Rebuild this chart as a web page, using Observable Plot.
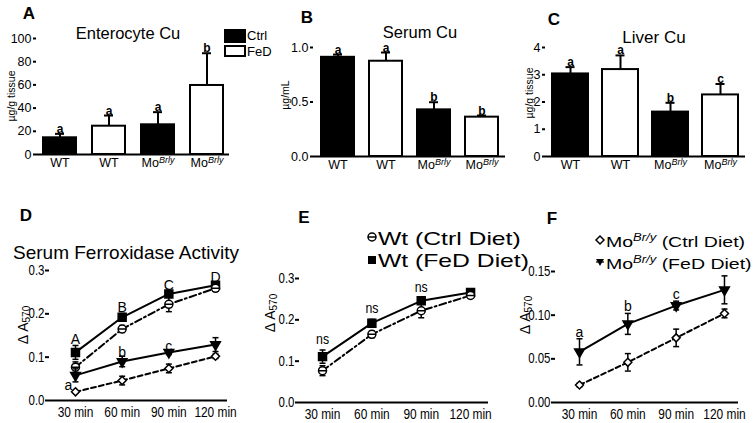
<!DOCTYPE html>
<html>
<head>
<meta charset="utf-8">
<script src="https://cdn.jsdelivr.net/npm/d3@7"></script>
<script src="https://cdn.jsdelivr.net/npm/@observablehq/plot@0.6"></script>
<style>
  body { margin: 0; background: #fff; }
  #fig { position: relative; width: 754px; height: 423px; overflow: hidden; background: #fff;
         font-family: "Liberation Sans", Arial, sans-serif; color: #000; }
  #fig svg.pp { position: absolute; left: 0; top: 0; }
  .t { position: absolute; white-space: nowrap; line-height: 1; }
  .c { transform: translate(-50%, -50%); }
  .rot { transform: translate(-50%, -50%) rotate(-90deg); }
  .letter { font-weight: bold; font-size: 17px; }
  .title { font-size: 16.5px; }
  .ylab { font-size: 10.5px; }
  .ylab2 { font-size: 14px; }
  .ylab2 sub { font-size: 10px; vertical-align: -2px; }
  .leg { font-size: 13px; }
  .legE { font-size: 19px; transform-origin: 0 50%; transform: translateY(-50%) scaleX(1.3); }
  .legF { font-size: 15px; transform-origin: 0 50%; transform: translateY(-50%) scaleX(1.3); }
  .legF sup { font-size: 10px; font-style: italic; vertical-align: 6px; }
  .box { position: absolute; box-sizing: border-box; border: 2px solid #000; }
</style>
</head>
<body>
<div id="fig"></div>
<script>
// ---------------- data ----------------
const barGroups = ["WT", "WT", "MoBrly", "MoBrly"];
const barDiets = ["Ctrl", "FeD", "Ctrl", "FeD"];

const enteroCu = [14.4, 24.4, 25.6, 59.5];
const enteroErr = [3.4, 9.2, 10.9, 27.8];
const enteroSig = ["a", "a", "a", "b"];
const enteroTicks = [0, 20, 40, 60, 80, 100];

const serumCu = [0.91, 0.874, 0.428, 0.361];
const serumErr = [0.025, 0.08, 0.07, 0.015];
const serumSig = ["a", "a", "b", "b"];
const serumTicks = [0, 0.5, 1.0];

const liverCu = [3.03, 3.19, 1.63, 2.26];
const liverErr = [0.25, 0.52, 0.34, 0.4];
const liverSig = ["a", "a", "b", "c"];
const liverTicks = [0, 1, 2, 3, 4];

const timeMin = [30, 60, 90, 120];
const timeLabels = ["30 min", "60 min", "90 min", "120 min"];

const wtCtrl = [0.077, 0.165, 0.222, 0.259];
const wtCtrlErr = [0.012, 0.008, 0.017, 0.004];
const wtFeD = [0.111, 0.192, 0.246, 0.266];
const wtFeDErr = [0.016, 0.009, 0.006, 0.005];
const moCtrl = [0.020, 0.046, 0.074, 0.102];
const moCtrlErr = [0.002, 0.010, 0.010, 0.005];
const moFeD = [0.058, 0.090, 0.111, 0.129];
const moFeDErr = [0.015, 0.012, 0.005, 0.016];

const dUpperSig = ["A", "B", "C", "D"];
const dLowerSig = ["a", "b", "c"];
const eSig = ["ns", "ns", "ns"];
const fSig = ["a", "b", "c"];

const ticks03 = [0, 0.1, 0.2, 0.3];
const ticks015 = [0, 0.05, 0.10, 0.15];

// ---------------- drawing ----------------
const W = 754, H = 423;
const fig = document.getElementById("fig");
const sansFont = '"Liberation Sans", Arial, sans-serif';
const NS = "http://www.w3.org/2000/svg";

const capSym = { draw(ctx, size) { const r = Math.sqrt(size / Math.PI); ctx.moveTo(-r, 0); ctx.lineTo(r, 0); } };
const circleBarSym = { draw(ctx, size) { const r = Math.sqrt(size / Math.PI);
  ctx.moveTo(r, 0); ctx.arc(0, 0, r, 0, 2 * Math.PI); ctx.moveTo(-r, 0); ctx.lineTo(r, 0); } };
const diamondSym = { draw(ctx, size) { const r = Math.sqrt(size / Math.PI);
  ctx.moveTo(0, -r); ctx.lineTo(r, 0); ctx.lineTo(0, r); ctx.lineTo(-r, 0); ctx.closePath(); } };

function addSvg(svg) { svg.classList.add("pp"); fig.appendChild(svg); return svg; }

// narrow the glyphs of multi-character texts (Arial-Narrow look)
function condense(svg, factor) {
  svg.querySelectorAll("text").forEach(t => {
    if (t.textContent.length < 2) return;
    const len = t.getComputedTextLength();
    if (len > 0) {
      t.setAttribute("textLength", (len * factor).toFixed(2));
      t.setAttribute("lengthAdjust", "spacingAndGlyphs");
    }
  });
}

const barKeys = barGroups.map((g, i) => g + " " + barDiets[i]);

function barPanel(vals, errs, sig, yMax, yTicks, fmt, box, pad, capInset) {
  const rows = barKeys.map((k, i) => ({ k, diet: barDiets[i], v: vals[i], top: vals[i] + errs[i], s: sig[i] }));
  const svg = Plot.plot({
    width: W, height: H,
    marginLeft: box[0], marginRight: W - box[1], marginTop: box[2], marginBottom: H - box[3],
    style: { background: "transparent", fontFamily: sansFont, fontSize: "12px", color: "black", overflow: "visible" },
    x: { type: "band", domain: barKeys, paddingInner: pad[0], paddingOuter: pad[1] },
    y: { domain: [0, yMax] },
    color: { domain: ["Ctrl", "FeD"], range: ["black", "white"] },
    marks: [
      Plot.ruleX(rows, { x: "k", y1: "v", y2: "top", stroke: "black", strokeWidth: 2 }),
      Plot.tickY(rows, { x: "k", y: "top", stroke: "black", strokeWidth: 2, inset: capInset }),
      Plot.barY(rows, { x: "k", y: "v", fill: "diet", stroke: "black", strokeWidth: 2 }),
      Plot.text(rows, { x: "k", y: "top", text: "s", lineAnchor: "bottom", dy: -1, fontSize: 12, fontWeight: "bold" }),
      Plot.axisY({ ticks: yTicks, tickFormat: fmt, tickSize: 3, tickPadding: 2, strokeWidth: 2, line: true, label: null, fontSize: 12.5 }),
      Plot.axisX({ tickSize: 0, tickPadding: 4, tickFormat: k => barGroups[barKeys.indexOf(k)], label: null, fontSize: 12.5 }),
      Plot.ruleY([0], { stroke: "black", strokeWidth: 2 })
    ]
  });
  svg.querySelectorAll("text").forEach(t => {
    if (t.textContent === "MoBrly") {
      t.textContent = "";
      const a = document.createElementNS(NS, "tspan"); a.textContent = "Mo";
      const b = document.createElementNS(NS, "tspan"); b.textContent = "Brly";
      b.setAttribute("font-style", "italic"); b.setAttribute("font-size", "9"); b.setAttribute("dy", "-0.5em");
      t.append(a, b);
    }
  });
  return addSvg(svg);
}

barPanel(enteroCu, enteroErr, enteroSig, 100, enteroTicks, d => d, [36, 229, 38, 154], [0.33, 0.13], 12);
barPanel(serumCu, serumErr, serumSig, 1.0, serumTicks, d3.format(".1f"), [313, 505, 47, 156], [0.32, 0.13], 12);
barPanel(liverCu, liverErr, liverSig, 4, liverTicks, d => d, [545, 745, 47, 156], [0.29, 0.12], 13.5);

const S = {
  wtCtrl: { vals: wtCtrl, errs: wtCtrlErr, symbol: circleBarSym, r: 4, fill: "white", dash: "7,3,2,3" },
  wtFeD: { vals: wtFeD, errs: wtFeDErr, symbol: "square", r: 4.5, fill: "black", dash: null },
  moCtrl: { vals: moCtrl, errs: moCtrlErr, symbol: diamondSym, r: 4, fill: "white", dash: "5,3" },
  moFeD: { vals: moFeD, errs: moFeDErr, symbol: "triangle", r: 3.6, fill: "black", dash: null, rotate: 180 }
};

function linePanel(series, box, xDom, yMax, yTicks, fmt, extra) {
  const marks = [];
  for (const s of series) {
    const rows = timeMin.map((t, i) => ({ t, v: s.vals[i], lo: s.vals[i] - s.errs[i], hi: s.vals[i] + s.errs[i] }));
    marks.push(Plot.line(rows, { x: "t", y: "v", stroke: "black", strokeWidth: 2, strokeDasharray: s.dash }));
    marks.push(Plot.ruleX(rows, { x: "t", y1: "lo", y2: "hi", stroke: "black", strokeWidth: 1.5 }));
    marks.push(Plot.dot(rows, { x: "t", y: "lo", symbol: capSym, r: 3, fill: "none", stroke: "black", strokeWidth: 1.5 }));
    marks.push(Plot.dot(rows, { x: "t", y: "hi", symbol: capSym, r: 3, fill: "none", stroke: "black", strokeWidth: 1.5 }));
    marks.push(Plot.dot(rows, { x: "t", y: "v", symbol: s.symbol, r: s.r, fill: s.fill, stroke: "black", strokeWidth: 1.5, rotate: s.rotate || 0 }));
  }
  marks.push(...extra);
  marks.push(
    Plot.axisY({ ticks: yTicks, tickFormat: fmt, tickSize: 4, tickPadding: 1, strokeWidth: 2, line: true, label: null, fontSize: 14 }),
    Plot.axisX({ ticks: timeMin, tickFormat: d => timeLabels[timeMin.indexOf(d)], tickSize: 0, tickPadding: 6, label: null, fontSize: 14.5 }),
    Plot.ruleY([0], { stroke: "black", strokeWidth: 2 })
  );
  const svg = Plot.plot({
    width: W, height: H,
    marginLeft: box[0], marginRight: W - box[1], marginTop: box[2], marginBottom: H - box[3],
    style: { background: "transparent", fontFamily: sansFont, fontSize: "13px", color: "black", overflow: "visible" },
    x: { type: "linear", domain: xDom },
    y: { domain: [0, yMax] },
    marks
  });
  addSvg(svg);
  condense(svg, 0.82);
  return svg;
}

const hiRows = (vals, errs, labels) => labels.map((s, i) => ({ t: timeMin[i], y: vals[i] + errs[i], s }));
const txt = { fontFamily: sansFont, fontSize: 14, fill: "black" };

// Panel D
const dUpper = hiRows(wtFeD, wtFeDErr, dUpperSig);
const dLower = hiRows(moFeD, moFeDErr, dLowerSig);
linePanel([S.wtFeD, S.wtCtrl, S.moFeD, S.moCtrl], [49, 227, 270, 400], [13.3, 127.7], 0.3, ticks03, d3.format(".1f"), [
  Plot.text(dUpper, { x: "t", y: "y", text: "s", lineAnchor: "bottom", dy: -1, ...txt }),
  Plot.text(dLower.slice(1), { x: "t", y: "y", text: "s", lineAnchor: "bottom", dy: 1, ...txt }),
  Plot.text(dLower.slice(0, 1).map((d, i) => ({ ...d, y: moFeD[i] - moFeDErr[i] })), { x: "t", y: "y", text: "s", dx: -7, dy: 4, ...txt })
]);

// Panel E
linePanel([S.wtFeD, S.wtCtrl], [299, 488, 278, 402], [16, 130.9], 0.3, ticks03, d3.format(".1f"), [
  Plot.text(hiRows(wtFeD, wtFeDErr, eSig), { x: "t", y: "y", text: "s", lineAnchor: "bottom", dy: -6, ...txt, fontSize: 15 })
]);

// Panel F
linePanel([S.moFeD, S.moCtrl], [555, 738, 271, 402], [15.1, 128.7], 0.15, ticks015, d3.format(".2f"), [
  Plot.text(hiRows(moFeD, moFeDErr, fSig), { x: "t", y: "y", text: "s", lineAnchor: "bottom", dy: -2, ...txt })
]);

// ---------------- HTML text overlays ----------------
function addText(html, cls, x, y, extraStyle) {
  const d = document.createElement("div");
  d.className = "t " + cls;
  d.style.left = x + "px"; d.style.top = y + "px";
  if (extraStyle) Object.assign(d.style, extraStyle);
  d.innerHTML = html;
  fig.appendChild(d);
  return d;
}
// panel letters
[["A", 29, 13], ["B", 307, 17], ["C", 554, 19], ["D", 26, 215], ["E", 304, 217], ["F", 552, 218]]
  .forEach(([s, x, y]) => addText(s, "c letter", x, y));
// titles
addText("Enterocyte Cu", "c title", 128, 33);
addText("Serum Cu", "c title", 420, 32);
addText("Liver Cu", "c title", 654, 37, { fontSize: "17px" });
addText("Serum Ferroxidase Activity", "title", 13, 252, { fontSize: "19px", transform: "translateY(-50%)" });
// y labels
addText("µg/g tissue", "rot ylab", 11, 96);
addText("µg/mL", "rot ylab", 285, 95);
addText("µg/g tissue", "rot ylab", 529, 93);
addText("Δ A<sub>570</sub>", "rot ylab2", 24, 325);
addText("Δ A<sub>570</sub>", "rot ylab2", 271, 313);
addText("Δ A<sub>570</sub>", "rot ylab2", 526, 315);
// legend A
const bx1 = document.createElement("div"); bx1.className = "box";
Object.assign(bx1.style, { left: "224px", top: "29px", width: "22px", height: "14px", background: "#000" }); fig.appendChild(bx1);
const bx2 = document.createElement("div"); bx2.className = "box";
Object.assign(bx2.style, { left: "224px", top: "45px", width: "22px", height: "12px", background: "#fff" }); fig.appendChild(bx2);
addText("Ctrl", "leg", 247, 35, { transform: "translateY(-50%)" });
addText("FeD", "leg", 247, 51, { transform: "translateY(-50%)" });
// legend symbols (E, F)
function legendSym(x, y, svgInner) {
  const s = document.createElementNS(NS, "svg");
  s.setAttribute("width", 14); s.setAttribute("height", 14);
  s.style.position = "absolute"; s.style.left = (x - 7) + "px"; s.style.top = (y - 7) + "px";
  s.innerHTML = svgInner; fig.appendChild(s);
}
legendSym(372, 237, '<circle cx="7" cy="7" r="4" fill="white" stroke="black" stroke-width="1.5"/><line x1="3" y1="7" x2="11" y2="7" stroke="black" stroke-width="1.5"/>');
legendSym(372, 260, '<rect x="3" y="3" width="8" height="8" fill="black"/>');
legendSym(600, 240, '<path d="M7,3L11,7L7,11L3,7Z" fill="white" stroke="black" stroke-width="1.5"/>');
legendSym(600, 262, '<path d="M3,4L11,4L7,11Z" fill="black"/><line x1="3" y1="7" x2="11" y2="7" stroke="black" stroke-width="1.2"/>');
addText("Wt (Ctrl Diet)", "legE", 378, 238);
addText("Wt (FeD Diet)", "legE", 378, 260);
addText("Mo<sup>Br/y</sup> (Ctrl Diet)", "legF", 606, 241);
addText("Mo<sup>Br/y</sup> (FeD Diet)", "legF", 606, 263);
</script>
</body>
</html>
